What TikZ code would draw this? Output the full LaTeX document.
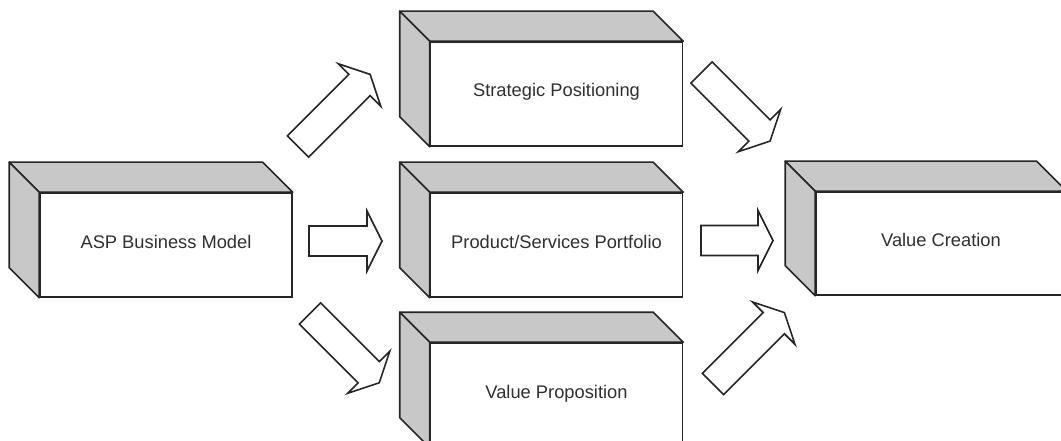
\documentclass[tikz,border=0pt]{standalone}
\usepackage{fontspec}
\setmainfont{Liberation Sans}
\usetikzlibrary{calc}

\definecolor{ink}{HTML}{262626}
\definecolor{shade}{HTML}{C8C8C8}
\definecolor{txt}{HTML}{303030}

\tikzset{
  face/.style={draw=ink, fill=white, line width=1.6pt, inner sep=0pt,
    minimum width=252pt, minimum height=104pt, text=txt,
    text height=13pt, text depth=7pt,
    font=\fontsize{18.3}{22}\selectfont},
  sideface/.style={draw=ink, fill=shade, line width=1.6pt, line join=round},
  blockarrow/.style={draw=ink, fill=white, line width=1.6pt, line join=miter}
}

% gray top and left faces behind a front face node
\newcommand\boxsides[1]{%
  \path[sideface] (#1.north west) -- ++(-30,-30)
    -- ($(#1.north east)+(-30,-30)$) -- (#1.north east) -- cycle;
  \path[sideface] (#1.north west) -- ++(-30,-30)
    -- ($(#1.south west)+(-30,-30)$) -- (#1.south west) -- cycle;
}

% hollow block arrow: tail centre, direction, shaft length
\newcommand\blockarrow[3]{%
  \begin{scope}[shift={(#1)}, rotate=#2]
    \draw[blockarrow] (0,15) -- (#3,15) -- (#3,30) -- ({#3+15},0)
      -- (#3,-30) -- (#3,-15) -- (0,-15) -- cycle;
  \end{scope}
}

\begin{document}
\begin{tikzpicture}[x=1pt, y=-1pt]
  \useasboundingbox (0,0) rectangle (1061,441);
  \clip (0,0) rectangle (1061,441);

  % boxes
  \node[face] (asp) at (166,245) {ASP Business Model};
  \boxsides{asp}
  \node[face] (strat) at (556.5,94) {Strategic Positioning};
  \boxsides{strat}
  \node[face] (prod) at (556.5,245) {Product/Services Portfolio};
  \boxsides{prod}
  \node[face] (prop) at (556.5,395) {Value Proposition};
  \boxsides{prop}
  \node[face, minimum width=250pt, minimum height=103pt] (vc) at (941,243.5) {Value Creation};
  \boxsides{vc}

  % arrows from the business model to the three dimensions
  \blockarrow{298,146.5}{45}{87}
  \blockarrow{309,241}{0}{58}
  \blockarrow{310,313.5}{-45}{83}

  % arrows from the three dimensions to value creation
  \blockarrow{701.5,72.5}{-45}{82}
  \blockarrow{701,240.5}{0}{57}
  \blockarrow{713,384}{45}{86}
\end{tikzpicture}
\end{document}
